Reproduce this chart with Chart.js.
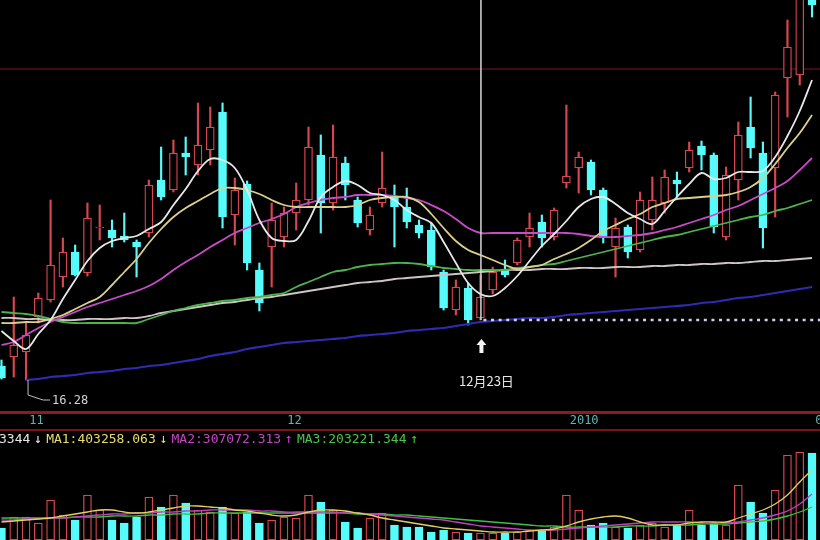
<!DOCTYPE html>
<html><head><meta charset="utf-8">
<script src="https://cdn.jsdelivr.net/npm/chart.js@4.4.0/dist/chart.umd.min.js"></script>
<style>html,body{margin:0;padding:0;background:#000;overflow:hidden}canvas{display:block}</style>
</head><body>
<canvas id="c" width="820" height="540"></canvas>
<script>
// ---- price data (one entry per trading day) ----
const opens  = [16.56,16.74,16.84,17.54,17.88,18.34,18.84,18.42,19.32,19.28,
  19.16,19.04,19.22,20.28,20.08,20.82,20.58,20.88,21.64,19.58,
  20.20,18.48,18.94,19.14,19.62,19.88,20.78,19.82,20.62,19.88,
  19.28,19.82,19.96,19.74,19.38,19.28,18.44,17.68,18.12,17.52,
  18.08,18.50,18.62,19.14,19.44,19.14,20.22,20.52,20.64,20.08,
  18.94,19.34,18.88,19.48,19.82,20.28,20.52,20.96,20.78,19.14,
  20.28,21.34,20.82,20.52,22.32,22.38,24.08];
const highs  = [16.68,17.94,17.44,18.02,19.88,19.12,18.98,19.82,19.78,19.48,
  19.62,19.08,20.28,20.94,21.08,21.14,21.82,21.74,21.82,20.32,
  20.26,18.62,19.82,19.74,20.22,21.34,21.18,21.38,20.74,19.94,
  19.74,20.84,20.18,20.12,19.48,19.42,18.48,18.28,18.22,18.38,
  18.54,18.68,19.12,19.62,19.58,19.72,21.78,20.84,20.68,20.12,
  19.52,19.38,20.04,20.34,20.48,20.44,21.04,21.06,20.82,20.54,
  21.44,21.94,21.04,22.04,23.48,24.28,24.18];
const lows   = [16.30,16.34,16.28,17.42,17.84,18.14,18.36,18.36,19.08,18.94,
  19.04,18.34,19.14,19.88,20.04,20.38,20.38,20.58,19.32,18.98,
  18.48,17.66,18.14,18.94,19.28,19.78,19.22,19.68,19.88,19.34,
  19.18,19.74,18.94,19.32,19.12,18.48,17.68,17.58,17.38,17.48,
  18.00,18.34,18.58,18.94,18.94,19.08,20.12,20.02,19.98,19.02,
  18.34,18.72,18.84,19.28,19.62,19.94,20.44,20.48,19.22,19.08,
  19.88,20.72,18.92,19.54,21.54,22.18,23.54];
const closes = [16.32,16.98,17.18,17.92,18.58,18.84,18.38,19.52,19.34,19.12,
  19.08,18.94,20.18,19.94,20.82,20.74,20.98,21.34,19.54,20.08,
  18.62,17.82,19.48,19.62,19.88,20.94,19.82,20.74,20.18,19.42,
  19.58,20.12,19.74,19.44,19.22,18.54,17.72,18.14,17.48,17.94,
  18.44,18.38,19.08,19.32,19.12,19.68,20.36,20.74,20.08,19.12,
  19.32,18.84,19.88,19.88,20.34,20.20,20.88,20.78,19.34,20.38,
  21.18,20.92,19.32,21.98,22.94,24.08,23.78];

// ---- moving averages ----
const ma5   = [17.26,17.06,16.90,17.20,17.48,17.90,18.28,18.66,18.92,19.06,
  19.12,19.16,19.30,19.44,19.78,20.10,20.46,20.70,20.68,20.52,
  20.08,19.48,19.12,19.06,19.08,19.46,19.94,20.14,20.26,20.18,
  20.02,19.98,19.88,19.68,19.54,19.42,19.04,18.62,18.22,18.00,
  17.96,18.12,18.36,18.66,18.96,19.20,19.46,19.74,19.90,19.94,
  19.80,19.62,19.50,19.40,19.66,19.94,20.20,20.42,20.30,20.32,
  20.44,20.44,20.46,20.74,21.16,21.66,22.28];
const ma10  = [17.42,17.42,17.44,17.44,17.50,17.58,17.70,17.82,17.94,18.18,
  18.44,18.70,19.02,19.30,19.54,19.72,19.86,20.00,20.12,20.12,
  20.08,20.00,19.88,19.78,19.74,19.74,19.74,19.74,19.74,19.78,
  19.88,19.92,19.94,19.94,19.84,19.60,19.32,19.06,18.88,18.78,
  18.68,18.58,18.50,18.54,18.58,18.70,18.80,18.92,19.08,19.26,
  19.38,19.50,19.60,19.74,19.82,19.90,19.92,19.94,19.96,19.98,
  20.04,20.14,20.32,20.60,20.92,21.22,21.58];
const ma20  = [16.98,17.04,17.18,17.32,17.44,17.54,17.64,17.74,17.82,17.90,
  17.98,18.06,18.16,18.30,18.48,18.64,18.78,18.94,19.08,19.22,
  19.32,19.42,19.50,19.60,19.74,19.82,19.88,19.92,19.94,19.98,
  19.98,19.98,19.96,19.92,19.88,19.78,19.66,19.50,19.32,19.22,
  19.22,19.22,19.22,19.22,19.22,19.22,19.22,19.20,19.16,19.14,
  19.14,19.16,19.18,19.22,19.28,19.34,19.42,19.50,19.58,19.68,
  19.76,19.88,20.00,20.12,20.26,20.48,20.72];
const ma60  = [17.64,17.62,17.60,17.56,17.50,17.44,17.42,17.42,17.42,17.42,
  17.42,17.42,17.50,17.58,17.66,17.72,17.78,17.82,17.86,17.88,
  17.92,17.94,17.98,18.02,18.14,18.24,18.34,18.44,18.48,18.54,
  18.58,18.60,18.62,18.62,18.60,18.56,18.52,18.50,18.48,18.48,
  18.48,18.48,18.52,18.54,18.58,18.60,18.66,18.72,18.78,18.84,
  18.90,18.96,19.02,19.08,19.14,19.18,19.24,19.30,19.36,19.42,
  19.48,19.54,19.58,19.66,19.72,19.80,19.88];
const ma120 = [17.52,17.52,17.50,17.50,17.48,17.48,17.48,17.50,17.50,17.50,
  17.52,17.52,17.56,17.62,17.66,17.70,17.74,17.78,17.82,17.84,
  17.88,17.92,17.94,17.98,18.02,18.06,18.10,18.14,18.18,18.22,
  18.24,18.26,18.30,18.32,18.34,18.36,18.38,18.40,18.42,18.44,
  18.46,18.48,18.48,18.48,18.50,18.50,18.50,18.52,18.52,18.52,
  18.54,18.54,18.54,18.56,18.56,18.58,18.58,18.60,18.60,18.62,
  18.62,18.64,18.66,18.66,18.68,18.70,18.72];
const ma250 = [null,null,16.28,16.30,16.34,16.36,16.38,16.42,16.44,16.46,
  16.50,16.52,16.56,16.58,16.62,16.66,16.70,16.76,16.80,16.84,
  16.90,16.94,16.98,17.02,17.04,17.06,17.08,17.10,17.12,17.16,
  17.18,17.20,17.22,17.26,17.28,17.30,17.32,17.36,17.40,17.44,
  17.46,17.48,17.50,17.52,17.52,17.54,17.58,17.60,17.62,17.64,
  17.66,17.68,17.70,17.72,17.74,17.76,17.78,17.82,17.84,17.88,
  17.92,17.94,17.98,18.02,18.06,18.10,18.14];

// ---- volume (万手) and its averages ----
const volume = [12,23,23,17,40,25,20,45,30,20,
  17,23,43,33,45,37,30,28,33,27,
  28,17,20,23,22,45,38,30,18,12,
  22,27,15,13,13,8,10,8,7,7,
  7,7,8,10,10,13,45,30,15,17,
  13,12,15,17,13,15,30,15,17,15,
  55,38,27,50,85,88,87];
const volMa1 = [18,19,20,21,22,24,26,28,30,30,28,27,28,30,32,34,34,33,32,30,29,27,25,24,25,28,30,30,29,27,25,22,20,18,16,14,12,11,10,9,8,8,8,9,10,11,14,18,21,23,24,22,18,15,15,15,17,18,18,18,22,26,30,36,45,58,70];
const volMa2 = [20,20,21,21,22,22,23,24,25,26,26,27,27,28,28,29,29,30,30,30,30,29,29,28,28,28,28,28,27,27,26,25,24,23,22,21,20,18,16,14,13,12,11,10,10,10,11,12,13,14,15,16,17,18,18,18,18,17,17,17,18,20,22,25,29,36,46];
const volMa3 = [22,22,22,22,22,22,23,23,23,24,24,24,25,25,26,26,26,27,27,27,27,27,27,27,27,27,27,27,27,26,26,26,25,25,24,23,22,21,20,19,18,17,16,15,14,14,13,13,13,13,13,14,14,14,15,15,15,16,16,16,17,18,19,21,24,28,33];

// ---- texts / labels ----
const dateTickIdx    = [3, 24, 47, 67];
const dateTickLabels = ['11', '12', '2010', '02'];
const markIdx   = 39;
const markLabel = '12月23日';
const gridPrices = [22.50];
const volLegend = [
  {t:'3344', c:'#e6e6e6'}, {t:'↓', c:'#e6e6e6'},
  {t:'MA1:403258.063', c:'#e8dc6a'}, {t:'↓', c:'#e8dc6a'},
  {t:'MA2:307072.313', c:'#c445c4'}, {t:'↑', c:'#c445c4'},
  {t:'MA3:203221.344', c:'#46c846'}, {t:'↑', c:'#46c846'}
];

const RED = '#d8464f', CYAN = '#56fcfc';
const idx = opens.map((_, i) => i);
const up = i => closes[i] >= opens[i];

function lineDs(arr, color, axis, w) {
  return {type:'line', data: idx.map(i => ({x:i, y:arr[i]})), borderColor: color,
    borderWidth: w, pointRadius: 0, tension: 0.35, spanGaps: true, yAxisID: axis, order: 0};
}

const overlay = {
  id: 'overlay',
  beforeDatasetsDraw(chart) {
    const {ctx} = chart, y = chart.scales.y;
    ctx.save();
    ctx.strokeStyle = '#3c0c12'; ctx.lineWidth = 2;
    gridPrices.forEach(p => {
      const py = Math.round(y.getPixelForValue(p));
      ctx.beginPath(); ctx.moveTo(0, py); ctx.lineTo(chart.width, py); ctx.stroke();
    });
    ctx.restore();
  },
  afterDatasetsDraw(chart) {
    const {ctx} = chart, x = chart.scales.x, y = chart.scales.y;
    ctx.save();
    // panel separators
    ctx.fillStyle = '#8e1a22'; ctx.fillRect(0, 411, chart.width, 3);
    ctx.fillStyle = '#7a1419'; ctx.fillRect(0, 429, chart.width, 2);
    // date labels
    ctx.font = '12px "DejaVu Sans Mono"'; ctx.textBaseline = 'middle'; ctx.textAlign = 'left';
    ctx.fillStyle = '#5cb8b8';
    dateTickIdx.forEach((d, k) => ctx.fillText(dateTickLabels[k], x.getPixelForValue(d) - 9, 421));
    // volume legend
    ctx.font = '13px "DejaVu Sans Mono"';
    let px = -1;
    volLegend.forEach(p => { ctx.fillStyle = p.c; ctx.fillText(p.t, px, 440); px += ctx.measureText(p.t).width + 4; });
    // lowest-low label
    let li = 0; lows.forEach((v, i) => { if (v < lows[li]) li = i; });
    const lx = x.getPixelForValue(li), ly = y.getPixelForValue(lows[li]);
    ctx.strokeStyle = '#bdbdbd'; ctx.lineWidth = 1;
    ctx.beginPath(); ctx.moveTo(lx + 2, ly); ctx.lineTo(lx + 2, ly + 15); ctx.lineTo(lx + 17, ly + 20); ctx.lineTo(lx + 24, ly + 20); ctx.stroke();
    ctx.font = '12px "DejaVu Sans Mono"'; ctx.fillStyle = '#d4d4d4';
    ctx.fillText(lows[li].toFixed(2), lx + 26, ly + 21);
    // marker day
    const vx = x.getPixelForValue(markIdx), vy = y.getPixelForValue(lows[markIdx]);
    ctx.strokeStyle = '#d6d6d6'; ctx.lineWidth = 1.5;
    ctx.beginPath(); ctx.moveTo(vx + 0.5, 0); ctx.lineTo(vx + 0.5, vy); ctx.stroke();
    ctx.strokeStyle = '#cfd0f0'; ctx.lineWidth = 2.5; ctx.setLineDash([3, 4.6]);
    ctx.beginPath(); ctx.moveTo(vx + 3, vy); ctx.lineTo(chart.width, vy); ctx.stroke();
    ctx.setLineDash([]);
    // up arrow under the marker
    const ax = vx + 1, at = vy + 19;
    ctx.fillStyle = '#f4f4f4';
    ctx.beginPath();
    ctx.moveTo(ax, at); ctx.lineTo(ax + 5, at + 6); ctx.lineTo(ax + 2, at + 6); ctx.lineTo(ax + 2, at + 14);
    ctx.lineTo(ax - 2, at + 14); ctx.lineTo(ax - 2, at + 6); ctx.lineTo(ax - 5, at + 6); ctx.closePath(); ctx.fill();
    ctx.textAlign = 'center';
    ctx.font = '13px "Noto Sans CJK SC"'; ctx.fillStyle = '#e6e6e6';
    ctx.fillText(markLabel, vx + 6, vy + 61);
    ctx.restore();
  }
};

new Chart(document.getElementById('c'), {
  type: 'bar',
  data: {
    datasets: [
      lineDs(ma5,   '#e8e8e8', 'y', 1.8),
      lineDs(ma10,  '#dacf8c', 'y', 1.8),
      lineDs(ma20,  '#c84cc8', 'y', 1.8),
      lineDs(ma60,  '#4cb44c', 'y', 1.8),
      lineDs(ma120, '#cdc4c4', 'y', 1.8),
      lineDs(ma250, '#2c2cb4', 'y', 2.2),
      lineDs(volMa1, '#e0d060', 'yv', 1.3),
      lineDs(volMa2, '#c040c0', 'yv', 1.3),
      lineDs(volMa3, '#40c040', 'yv', 1.3),
      {type:'bar', data: idx.map(i => ({x:i, y:[opens[i], closes[i]]})), yAxisID:'y',
        backgroundColor: c => up(c.dataIndex) ? '#000' : CYAN,
        borderColor: c => up(c.dataIndex) ? RED : CYAN,
        borderWidth: 1.3, borderSkipped: false, barThickness: 8, grouped: false, order: 2},
      {type:'bar', data: idx.map(i => ({x:i, y:[lows[i], highs[i]]})), yAxisID:'y',
        backgroundColor: c => up(c.dataIndex) ? RED : CYAN,
        borderWidth: 0, barThickness: 1.5, grouped: false, order: 3},
      {type:'bar', data: idx.map(i => ({x:i, y:volume[i]})), yAxisID:'yv',
        backgroundColor: c => up(c.dataIndex) ? '#000' : CYAN,
        borderColor: c => up(c.dataIndex) ? RED : CYAN,
        borderWidth: 1.3, borderSkipped: false, barThickness: 8, grouped: false, order: 2}
    ]
  },
  options: {
    responsive: false, animation: false, events: [],
    layout: {padding: 0},
    plugins: {legend: {display: false}, tooltip: {enabled: false}},
    scales: {
      x:  {type:'linear', min:-0.12, max:66.65, offset:false, display:false},
      y:  {type:'linear', min:13.08, max:23.88, display:false},
      yv: {type:'linear', min:0, max:540, display:false}
    }
  },
  plugins: [overlay]
});
</script>
</body></html>
